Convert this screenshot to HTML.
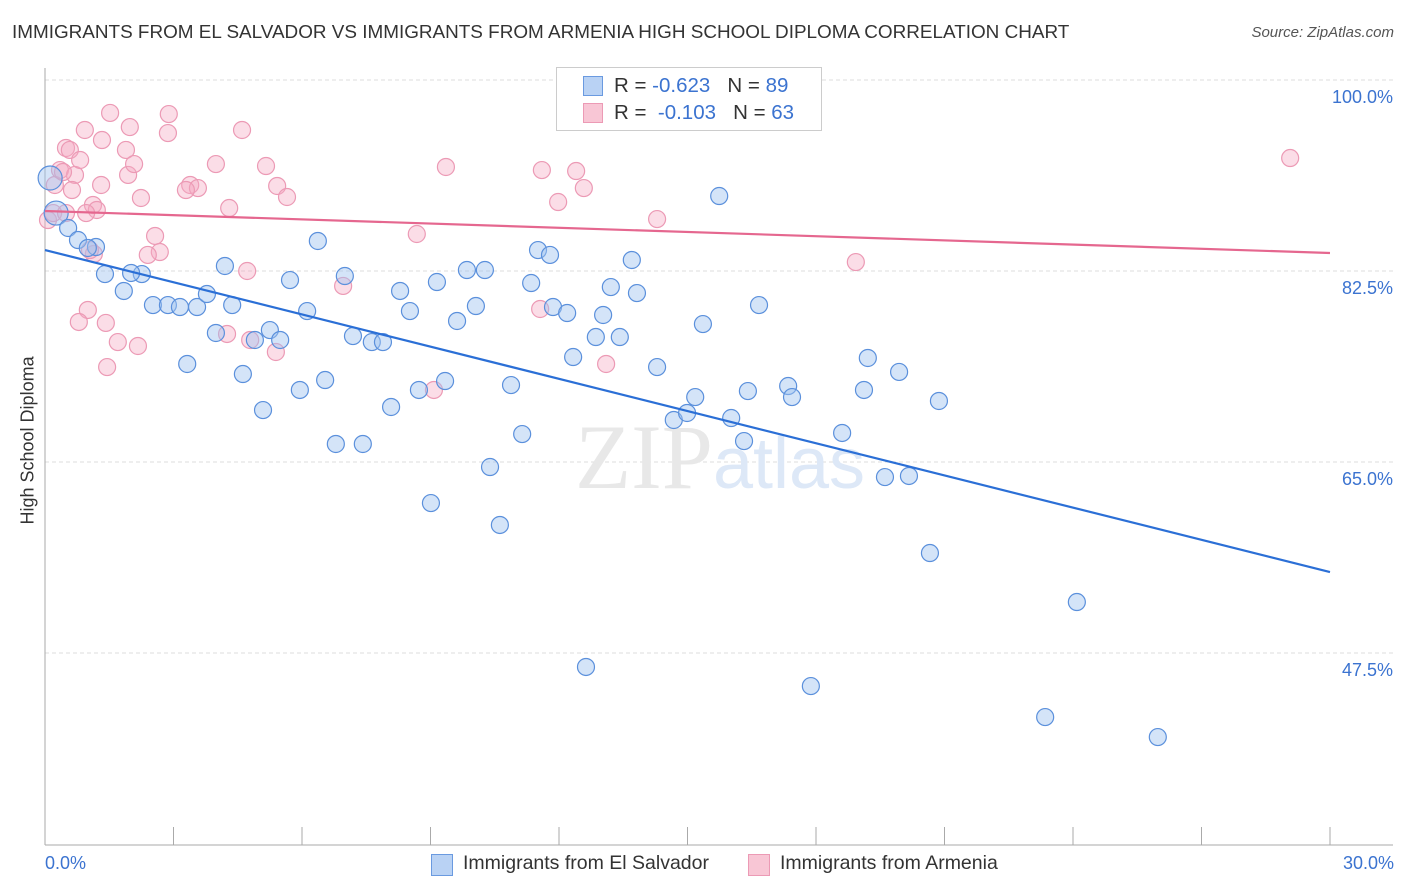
<!DOCTYPE html>
<html><head><meta charset="utf-8">
<style>
body{margin:0;background:#fff;font-family:"Liberation Sans",sans-serif;}
#wrap{position:relative;width:1406px;height:892px;overflow:hidden;}
.t{position:absolute;white-space:nowrap;}
</style></head>
<body>
<div id="wrap">
<div class="t" style="left:12px;top:22px;font-size:18.9px;color:#333;">IMMIGRANTS FROM EL SALVADOR VS IMMIGRANTS FROM ARMENIA HIGH SCHOOL DIPLOMA CORRELATION CHART</div>
<div class="t" style="right:12px;top:24px;font-size:15px;color:#555;font-style:italic;">Source: ZipAtlas.com</div>
<svg id="svg" width="1406" height="892" style="position:absolute;left:0;top:0"></svg>
</div>
<script>
const xTicks=[0,3,6,9,12,15,18,21,24,27,30];
const yTicks=[100,82.5,65,47.5];
const yTickLabels=["100.0%","82.5%","65.0%","47.5%"];
const blueX=[0.12,0.26,0.54,0.77,1.19,1.00,1.40,1.84,2.26,2.01,2.52,2.87,3.15,3.55,3.78,4.20,4.37,3.99,3.32,4.62,4.90,5.25,5.09,5.49,5.72,5.95,6.12,6.37,6.54,6.79,7.00,7.19,7.42,7.63,7.89,8.08,8.29,8.52,8.73,9.15,9.34,9.62,9.85,10.06,10.27,10.39,9.01,10.62,10.88,11.14,11.35,11.51,11.79,11.86,12.19,12.33,12.86,13.03,13.21,13.42,13.70,13.82,14.29,12.63,14.68,14.99,15.18,15.36,15.74,16.02,16.32,16.41,16.67,17.35,17.44,17.88,18.61,19.12,19.21,19.61,19.94,20.17,20.66,20.87,23.35,24.09,25.98];
const blueY=[91.02,87.81,86.44,85.34,84.70,84.61,82.22,80.67,82.22,82.32,79.38,79.38,79.20,79.20,80.39,82.96,79.38,76.82,73.98,73.06,76.18,77.09,69.76,76.18,81.67,71.60,78.83,85.25,72.51,66.65,82.04,76.54,66.65,75.99,75.99,70.04,80.67,78.83,71.60,81.49,72.42,77.92,82.59,79.29,82.59,64.54,61.24,59.23,72.05,67.56,81.40,84.42,83.97,79.20,78.65,74.62,76.45,78.47,81.03,76.45,83.51,80.48,73.70,46.22,68.85,69.49,70.95,77.64,89.37,69.03,66.92,71.50,79.38,71.96,70.95,44.47,67.66,71.60,74.53,63.62,73.25,63.72,56.66,70.59,41.63,52.17,39.80];
const pinkX=[0.07,0.23,0.19,0.35,0.49,0.58,0.70,0.63,0.82,0.93,1.12,1.21,1.31,1.33,1.42,1.52,1.00,0.79,1.45,1.70,1.98,1.94,1.89,2.08,2.17,2.24,2.57,2.68,2.40,2.89,2.87,3.39,3.57,3.29,3.99,4.30,4.25,4.60,4.72,4.79,5.16,5.42,5.65,5.39,6.96,8.68,9.36,11.60,11.56,11.98,12.40,12.58,13.10,14.29,18.93,9.08,29.07,1.14,0.49,0.96,0.42,1.05];
const pinkY=[87.17,90.38,87.81,91.75,93.77,93.59,91.30,89.92,92.67,95.42,88.55,88.09,90.38,94.50,77.74,96.98,78.93,77.83,73.70,75.99,95.69,91.30,93.59,92.30,75.63,89.19,85.71,84.24,83.97,96.88,95.14,90.38,90.10,89.92,92.30,88.27,76.73,95.42,82.50,76.18,92.12,90.29,89.28,75.08,81.13,85.89,92.03,91.75,79.02,88.82,91.66,90.10,73.98,87.26,83.32,71.60,92.85,84.06,87.81,87.81,91.57,84.42];
const blueTrend=[84.42,54.92];
const pinkTrend=[88.0,84.15];
const NS="http://www.w3.org/2000/svg";
const svg=document.getElementById('svg');
const X=v=>45+v/30*1285;
const Y=v=>80+(100-v)/17.5*191;
function mk(tag,a){const e=document.createElementNS(NS,tag);for(const k in a)e.setAttribute(k,a[k]);svg.appendChild(e);return e;}
yTicks.forEach((v,i)=>{
 const g=mk('line',{x1:45,x2:1393,y1:Y(v),y2:Y(v),stroke:'#dcdcdc','stroke-dasharray':'4,3'});
 
 
 const t=mk('text',{x:1393,y:Y(v)+23,'text-anchor':'end','font-size':18,fill:'#3b73d0','font-family':'Liberation Sans'});
 t.textContent=yTickLabels[i];
 
 
});
const ax=mk('line',{x1:45,x2:45,y1:68,y2:845,stroke:'#aaa'});


const bx=mk('line',{x1:45,x2:1393,y1:845,y2:845,stroke:'#aaa'});


xTicks.forEach(v=>{
 const l=mk('line',{x1:X(v),x2:X(v),y1:827,y2:845,stroke:'#aaa'});
 
 
});
const wm=mk('text',{x:720,y:488,'text-anchor':'middle','font-size':92,fill:'#e8e8e8','font-family':'Liberation Serif'});
wm.innerHTML='ZIP<tspan fill="#dde8f7" font-family="Liberation Sans" font-size="72">atlas</tspan>';


pinkX.forEach((x,i)=>{
 const c=mk('circle',{cx:X(x),cy:Y(pinkY[i]),r:8.5,fill:'rgba(245,170,195,0.4)',stroke:'#ec9ab5','stroke-width':1.2});
 
 
});
blueX.forEach((x,i)=>{
 const c=mk('circle',{cx:X(x),cy:Y(blueY[i]),r:i<2?12:8.5,fill:'rgba(160,195,240,0.45)',stroke:'#5b90dc','stroke-width':1.2});
 
 
});
const bl=mk('line',{x1:X(0),y1:Y(blueTrend[0]),x2:X(30),y2:Y(blueTrend[1]),stroke:'#2b6fd6','stroke-width':2.2});


const pl=mk('line',{x1:X(0),y1:Y(pinkTrend[0]),x2:X(30),y2:Y(pinkTrend[1]),stroke:'#e5678f','stroke-width':2.2});


</script>
<div class="t" style="left:-42px;top:444px;transform:rotate(-90deg);font-size:18px;color:#333;width:140px;text-align:center;">High School Diploma</div>
<div class="t" style="left:45px;top:853px;font-size:18px;color:#3b73d0;">0.0%</div>
<div class="t" style="right:12px;top:853px;font-size:18px;color:#3b73d0;">30.0%</div>
<div style="position:absolute;left:556px;top:67px;width:264px;height:62px;border:1px solid #ccc;background:#fff;font-size:20.5px;color:#333;">
 <div style="position:absolute;left:26px;top:8px;width:18px;height:18px;background:#b9d2f4;border:1px solid #6a9ae0;"></div>
 <div class="t" style="left:57px;top:6px;">R = <span style="color:#3b73d0">-0.623</span>&nbsp;&nbsp;&nbsp;N = <span style="color:#3b73d0">89</span></div>
 <div style="position:absolute;left:26px;top:35px;width:18px;height:18px;background:#f8c6d5;border:1px solid #ec9ab5;"></div>
 <div class="t" style="left:57px;top:33px;">R = &nbsp;<span style="color:#3b73d0">-0.103</span>&nbsp;&nbsp;&nbsp;N = <span style="color:#3b73d0">63</span></div>
</div>
<div style="position:absolute;left:431px;top:852px;font-size:19.5px;color:#333;">
 <div style="position:absolute;left:0;top:0;width:300px;"><span style="position:absolute;left:0;top:2px;width:20px;height:20px;background:#b9d2f4;border:1px solid #6a9ae0;"></span><span class="t" style="left:32px;top:0;">Immigrants from El Salvador</span></div>
 <div style="position:absolute;left:317px;top:0;width:300px;"><span style="position:absolute;left:0;top:2px;width:20px;height:20px;background:#f8c6d5;border:1px solid #ec9ab5;"></span><span class="t" style="left:32px;top:0;">Immigrants from Armenia</span></div>
</div>
</body></html>
